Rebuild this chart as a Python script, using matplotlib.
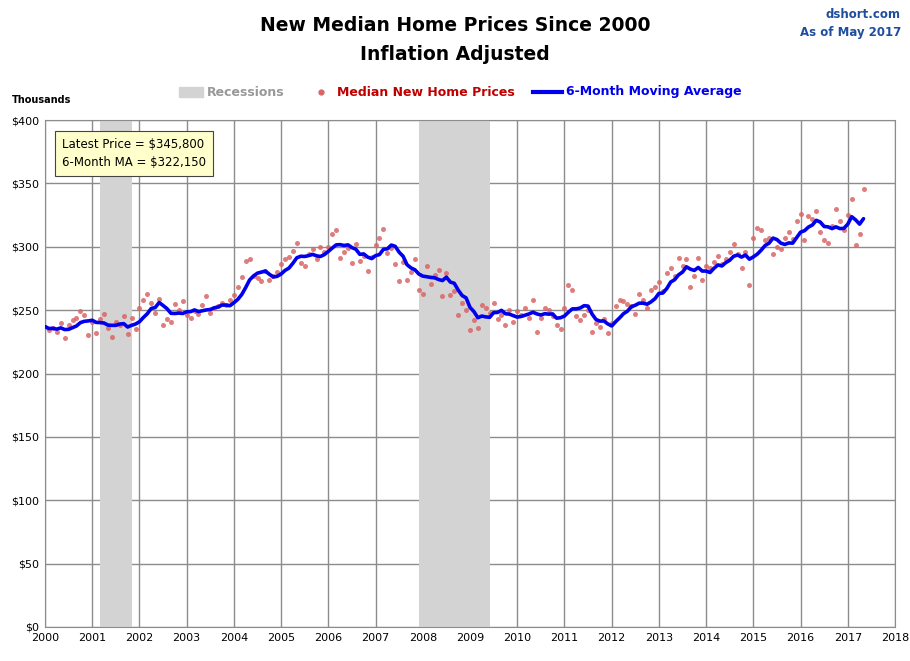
import matplotlib.pyplot as plt
import numpy as np
import pandas as pd

# monthly median new home price, thousands (inflation adjusted), Jan 2000 - May 2017
prices = [
    237, 234, 236, 233, 240, 228, 238, 242, 244, 249, 246, 230,
    241, 232, 243, 247, 236, 229, 241, 238, 245, 231, 244, 235,
    252, 258, 263, 256, 248, 259, 238, 243, 241, 255, 250, 257,
    246, 244, 249, 247, 254, 261, 248, 252, 253, 256, 254, 258,
    262, 268, 276, 289, 290, 277, 275, 273, 281, 274, 277, 280,
    286, 290, 292, 297, 303, 287, 285, 294, 298, 290, 300, 296,
    300, 310, 313, 291, 296, 299, 287, 302, 289, 293, 281, 292,
    301, 307, 314, 295, 299, 286, 273, 288, 274, 280, 290, 266,
    263, 285, 271, 278, 282, 261, 279, 262, 265, 246, 256, 250,
    234, 242, 236, 254, 252, 248, 256, 243, 246, 238, 250, 241,
    249, 246, 252, 244, 258, 233, 244, 252, 250, 245, 238, 235,
    252, 270, 266, 245, 242, 246, 250, 233, 240, 237, 243, 232,
    240, 253, 258, 257, 255, 253, 247, 263, 258, 252, 266, 268,
    272, 265, 279, 283, 277, 291, 285, 290, 268, 277, 291, 274,
    285, 283, 288, 293, 286, 290, 296, 302, 294, 283, 296, 270,
    307, 315, 313, 305, 307, 294, 300, 298, 307, 312, 306, 320,
    326, 305, 324, 322, 328, 312, 305, 303, 316, 330, 320, 313.1,
    325, 338, 301, 310, 345.8,
]
recessions = [(2001 + 2 / 12, 2001 + 10 / 12), (2007 + 11 / 12, 2009 + 5 / 12)]
yticks = np.arange(0, 401, 50)

t = 2000 + np.arange(len(prices)) / 12
ma = pd.Series(prices).rolling(6, min_periods=1).mean().values

fig = plt.figure(figsize=(9.1, 6.61), dpi=100)
fig.patch.set_facecolor('white')
ax = fig.add_axes([45 / 910, 1 - 627 / 661, 850 / 910, 507 / 661])

for a, b in recessions:
    ax.axvspan(a, b, color='#d3d3d3', zorder=1, lw=0)
ax.scatter(t, prices, s=13, color='#d96666', alpha=0.85, lw=0, zorder=3)
ax.plot(t, ma, color='#0000ee', lw=2.6, zorder=4, solid_capstyle='round')

ax.set_xlim(2000, 2018)
ax.set_ylim(0, 400)
ax.set_xticks(range(2000, 2019))
ax.set_yticks(yticks)
ax.set_yticklabels([f'${v}' for v in yticks])
ax.tick_params(labelsize=8, length=0, pad=4)
ax.grid(True, color='#8c8c8c', lw=1, zorder=0)
ax.set_axisbelow(True)
for s in ax.spines.values():
    s.set_color('#8c8c8c')

fig.text(0.5, 0.962, 'New Median Home Prices Since 2000', ha='center', va='center',
         fontsize=13.5, fontweight='bold')
fig.text(0.5, 0.918, 'Inflation Adjusted', ha='center', va='center',
         fontsize=13.5, fontweight='bold')
fig.text(0.99, 0.978, 'dshort.com', ha='right', va='center', fontsize=8.5,
         fontweight='bold', color='#1f4e9e')
fig.text(0.99, 0.951, 'As of May 2017', ha='right', va='center', fontsize=8.5,
         fontweight='bold', color='#1f4e9e')
fig.text(12 / 910, 1 - 100 / 661, 'Thousands', ha='left', va='center', fontsize=7,
         fontweight='bold')

# legend row
ly = 1 - 92 / 661
fig.patches.append(plt.Rectangle((179 / 910, ly - 0.008), 24 / 910, 0.016,
                                 transform=fig.transFigure, color='#d3d3d3'))
fig.text(207 / 910, ly, 'Recessions', va='center', fontsize=9, fontweight='bold', color='#999999')
fig.add_artist(plt.Line2D([321 / 910], [ly], marker='o', ms=3.5, color='#d96666', lw=0,
                          transform=fig.transFigure))
fig.text(337 / 910, ly, 'Median New Home Prices', va='center', fontsize=9,
         fontweight='bold', color='#c00000')
fig.add_artist(plt.Line2D([533 / 910, 562 / 910], [ly, ly], color='#0000ee', lw=3,
                          transform=fig.transFigure))
fig.text(566 / 910, ly, '6-Month Moving Average', va='center', fontsize=9,
         fontweight='bold', color='#0000ee')

ax.text(0.02, 0.965, f'Latest Price = ${prices[-1] * 1000:,.0f}\n6-Month MA = ${ma[-1] * 1000:,.0f}',
        transform=ax.transAxes, ha='left', va='top', fontsize=8.5, linespacing=1.5, zorder=6,
        bbox=dict(boxstyle='square,pad=0.6', fc='#ffffcc', ec='#444444', lw=0.8))

fig.savefig('out.png', dpi=100)
